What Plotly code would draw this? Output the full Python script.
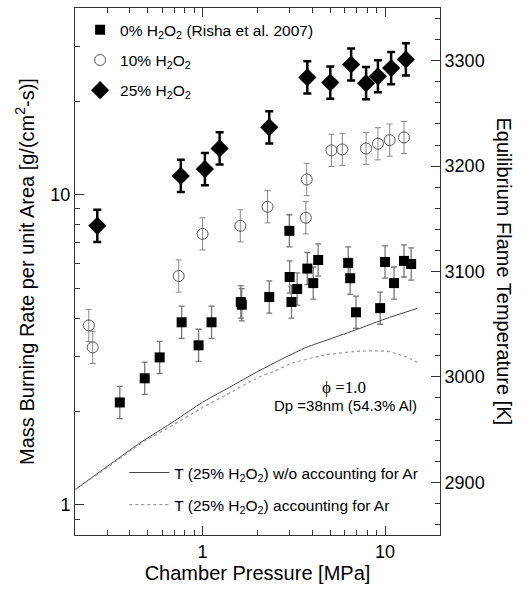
import numpy as np
import plotly.graph_objects as go

# ---------------- data ----------------
# 0% H2O2 (Risha et al. 2007): chamber pressure [MPa], mass burning rate [g/(cm2 s)]
p_0 = [0.352, 0.482, 0.582, 0.768, 0.951, 1.12, 1.62, 1.64, 2.32, 2.99, 3.00, 3.07,
       3.30, 3.75, 4.04, 4.30, 6.28, 6.44, 6.93, 9.40, 10.0, 11.2, 12.7, 13.9]
m_0 = [2.14, 2.56, 2.99, 3.88, 3.27, 3.88, 4.51, 4.42, 4.68, 7.65, 5.43, 4.51,
       4.97, 5.78, 5.19, 6.16, 6.03, 5.38, 4.18, 4.31, 6.07, 5.19, 6.12, 5.98]

# 10% H2O2
p_10 = [0.238, 0.250, 0.74, 1.0, 1.61, 2.27, 3.68, 3.72, 5.08, 5.83, 7.87, 9.14, 10.6, 12.7]
m_10 = [3.79, 3.22, 5.47, 7.48, 7.94, 9.15, 8.43, 11.2, 13.9, 14.0, 14.1, 14.6, 15.0, 15.3]

# 25% H2O2
p_25 = [0.265, 0.76, 1.03, 1.24, 2.32, 3.75, 5.01, 6.52, 7.87, 9.14, 10.8, 13.0]
m_25 = [7.94, 11.5, 12.1, 14.1, 16.5, 23.9, 23.0, 26.3, 22.9, 24.1, 25.6, 27.3]

# Equilibrium flame temperature [K], 25% H2O2
p_T_noAr = [0.2, 0.3, 0.46, 0.7, 1.0, 1.4, 2.0, 2.8, 3.7, 5.0, 7.0, 10, 15]
T_noAr = [2893, 2915, 2938, 2958, 2976, 2990, 3005, 3018, 3028, 3036, 3045, 3055, 3065]

p_T_Ar = [0.2, 0.3, 0.46, 0.7, 1.0, 1.35, 2.05, 2.44, 3.1, 4.76, 7.5, 10.5, 13, 15]
T_Ar = [2893, 2914, 2937, 2955, 2971, 2983, 3000, 3005, 3013, 3021, 3024.5, 3024, 3019, 3014]

# ticks
x_major = [1, 10]
x_minor = [0.3, 0.4, 0.5, 0.6, 0.7, 0.8, 0.9, 2, 3, 4, 5, 6, 7, 8, 9]
y_major = [1, 10]
y_minor = [0.9, 2, 3, 4, 5, 6, 7, 8, 9, 20, 30, 40]
t_major = [2900, 3000, 3100, 3200, 3300]

ERR = 1.127  # relative uncertainty factor


def err(vals):
    a = np.array(vals)
    return a * (ERR - 1), a * (1 - 1 / ERR)


FONT = "Liberation Sans, Arial, sans-serif"
AX = "#333333"

fig = go.Figure()

fig.add_trace(go.Scatter(
    x=p_T_noAr, y=T_noAr, yaxis="y2", mode="lines",
    line=dict(color="#444444", width=1, shape="spline", smoothing=0.6),
    name="T (25% H<sub>2</sub>O<sub>2</sub>) w/o accounting for Ar",
    legend="legend2", legendgroup="g4"))
fig.add_trace(go.Scatter(
    x=p_T_Ar, y=T_Ar, yaxis="y2", mode="lines",
    line=dict(color="#999999", width=1.2, dash="3px,3px", shape="spline", smoothing=0.6),
    name="T (25% H<sub>2</sub>O<sub>2</sub>) accounting for Ar",
    legend="legend2", legendgroup="g5"))

up, dn = err(m_0)
fig.add_trace(go.Scatter(
    x=p_0, y=m_0, mode="markers",
    marker=dict(symbol="square", size=10, color="black"),
    error_y=dict(type="data", symmetric=False, array=up, arrayminus=dn,
                 color="#777777", thickness=1.3, width=3),
    name="0% H<sub>2</sub>O<sub>2</sub> (Risha et al. 2007)", legendgroup="g1"))

up, dn = err(m_10)
fig.add_trace(go.Scatter(
    x=p_10, y=m_10, mode="markers",
    marker=dict(symbol="circle-open", size=11, color="#555555", line=dict(width=1)),
    error_y=dict(type="data", symmetric=False, array=up, arrayminus=dn,
                 color="#888888", thickness=1, width=3),
    name="10% H<sub>2</sub>O<sub>2</sub>", legendgroup="g2"))

up, dn = err(m_25)
fig.add_trace(go.Scatter(
    x=p_25, y=m_25, mode="markers",
    marker=dict(symbol="diamond", size=14, color="black"),
    error_y=dict(type="data", symmetric=False, array=up, arrayminus=dn,
                 color="black", thickness=2.5, width=4),
    name="25% H<sub>2</sub>O<sub>2</sub>", legendgroup="g3"))

fig.update_layout(
    width=529, height=593,
    margin=dict(l=75, r=89, t=8, b=58),
    paper_bgcolor="white", plot_bgcolor="white",
    font=dict(family=FONT, size=18, color="black"),
    showlegend=True,
    xaxis=dict(
        type="log", range=[np.log10(0.2), np.log10(20)],
        tickmode="array", tickvals=x_major, ticktext=[str(v) for v in x_major],
        ticks="inside", ticklen=9, tickcolor=AX, tickwidth=1,
        minor=dict(tickmode="array", tickvals=x_minor, ticks="inside", ticklen=5,
                   tickcolor=AX, showgrid=False),
        showline=True, linecolor=AX, linewidth=1, mirror="ticks",
        showgrid=False, zeroline=False,
        title=dict(text="Chamber Pressure [MPa]", font=dict(size=20), standoff=3),
        tickfont=dict(size=18),
    ),
    yaxis=dict(
        type="log", range=[np.log10(0.8), np.log10(40)],
        tickmode="array", tickvals=y_major, ticktext=[str(v) for v in y_major],
        ticks="inside", ticklen=9, tickcolor=AX, tickwidth=1,
        minor=dict(tickmode="array", tickvals=y_minor, ticks="inside", ticklen=5,
                   tickcolor=AX, showgrid=False),
        showline=True, linecolor=AX, linewidth=1,
        showgrid=False, zeroline=False,
        title=dict(text="Mass Burning Rate per unit Area [g/(cm<sup>2</sup>-s)]",
                   font=dict(size=20), standoff=10),
        tickfont=dict(size=18),
    ),
    yaxis2=dict(
        overlaying="y", side="right", range=[2850, 3350],
        tickmode="array", tickvals=t_major,
        ticks="inside", ticklen=9, tickcolor=AX, tickwidth=1,
        minor=dict(dtick=20, ticks="inside", ticklen=5, tickcolor=AX, showgrid=False),
        showline=True, linecolor=AX, linewidth=1,
        showgrid=False, zeroline=False,
        tickfont=dict(size=18),
    ),
    legend=dict(
        x=0.014, y=0.99, xanchor="left", yanchor="top",
        bgcolor="rgba(0,0,0,0)", font=dict(size=15.5),
        tracegroupgap=7, itemsizing="trace",
    ),
    legend2=dict(
        x=0.135, y=0.15, xanchor="left", yanchor="top",
        bgcolor="rgba(0,0,0,0)", font=dict(size=15.5),
        tracegroupgap=9, itemwidth=40,
    ),
    annotations=[
        dict(text="\u03d5 =1.0", xref="x", yref="y2", x=0.775, y=2990,
             xanchor="center", yanchor="middle",
             showarrow=False, font=dict(family="Liberation Serif, Times New Roman, serif", size=17)),
        dict(text="Dp =38nm (54.3% Al)", xref="x", yref="y2", x=0.781, y=2973,
             xanchor="center", yanchor="middle",
             showarrow=False, font=dict(size=15)),
        dict(text="Equilibrium Flame Temperature [K]", xref="paper", yref="paper",
             x=1.178, y=0.5, xanchor="center", yanchor="middle", textangle=90,
             showarrow=False, font=dict(size=20)),
    ],
)

fig.write_html("out.html", config={"displayModeBar": False},
               post_script="document.body.style.margin='0px';document.body.style.overflow='hidden';")
